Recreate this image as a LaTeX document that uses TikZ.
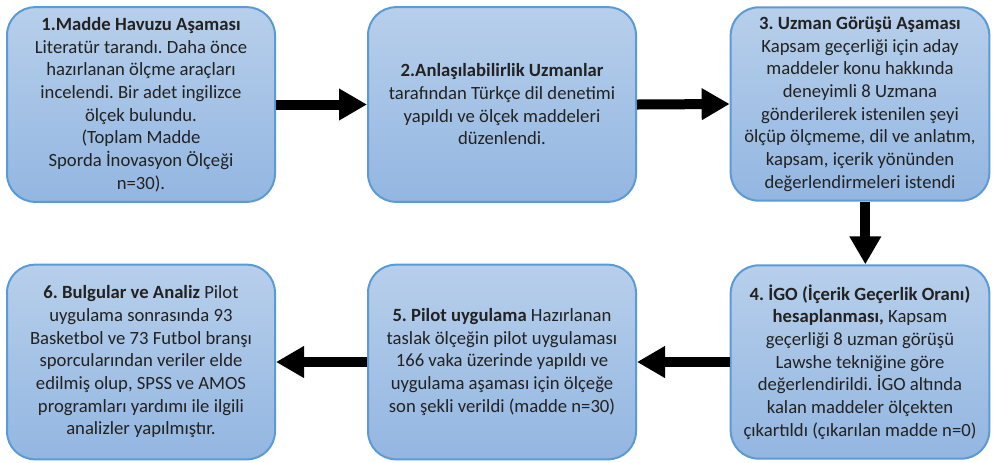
\documentclass[tikz,border=0pt]{standalone}
\usepackage{fontspec}
\setmainfont{Carlito}
\frenchspacing
\usepackage{tikz}
\usetikzlibrary{
  arrows.meta,              % Triangle 箭头样式
  positioning               % 节点相对定位
}
\definecolor{boxtop}{HTML}{B7CFEB}
\definecolor{boxbot}{HTML}{93B6E1}
\definecolor{boxline}{HTML}{5B9BD5}
\definecolor{boxtext}{HTML}{222222}
\tikzset{
  stage/.style={draw=boxline, line width=1.5pt, rounded corners=21pt, top color=boxtop, bottom color=boxbot,
    inner sep=0pt, align=center, text=boxtext, font=\fontsize{14}{17}\selectfont}, % 各阶段的圆角渐变框
  widebox/.style={stage, minimum width=201pt, minimum height=146pt}, % 左、中两列的框
  narrowbox/.style={stage, minimum width=194pt, minimum height=145pt}, % 右列的框
  flow/.style={-{Triangle[length=21pt, width=22.5pt]}, line width=7.5pt, black} % 粗黑箭头
}
\begin{document}
\begin{tikzpicture}[x=0.75pt, y=-0.75pt] % 以像素为单位，y 轴向下，便于按原图量取位置
  \useasboundingbox (0,0) rectangle (993,462); % 固定画布大小与原图一致

  % 上排三个阶段
  \node[widebox] (S1) at (141,104.5) {\textbf{1.Madde Havuzu Aşaması}\\Literatür tarandı. Daha önce\\hazırlanan ölçme araçları\\incelendi. Bir adet ingilizce\\ölçek bulundu.\\(Toplam Madde\\Sporda İnovasyon Ölçeği\\n=30).}; % 第一阶段
  \node[widebox] (S2) at (502,104.5) {\textbf{2.Anlaşılabilirlik Uzmanlar}\\tarafından Türkçe dil denetimi\\yapıldı ve ölçek maddeleri\\düzenlendi.}; % 第二阶段
  \node[narrowbox] (S3) at (860,104) {\textbf{3. Uzman Görüşü Aşaması}\\Kapsam geçerliği için aday\\maddeler konu hakkında\\deneyimli 8 Uzmana\\gönderilerek istenilen şeyi\\ölçüp ölçmeme, dil ve anlatım,\\kapsam, içerik yönünden\\değerlendirmeleri istendi}; % 第三阶段

  % 下排三个阶段
  \node[narrowbox] (S4) at (860,362) {\textbf{4. İGO (İçerik Geçerlik Oranı)}\\\textbf{hesaplanması,} Kapsam\\geçerliği 8 uzman görüşü\\Lawshe tekniğine göre\\değerlendirildi. İGO altında\\kalan maddeler ölçekten\\çıkartıldı (çıkarılan madde n=0)}; % 第四阶段
  \node[widebox] (S5) at (502,362) {\textbf{5. Pilot uygulama} Hazırlanan\\taslak ölçeğin pilot uygulaması\\166 vaka üzerinde yapıldı ve\\uygulama aşaması için ölçeğe\\son şekli verildi (madde n=30)}; % 第五阶段
  \node[widebox] (S6) at (141,362) {\textbf{6. Bulgular ve Analiz} Pilot\\uygulama sonrasında 93\\Basketbol ve 73 Futbol branşı\\sporcularından veriler elde\\edilmiş olup, SPSS ve AMOS\\programları yardımı ile ilgili\\analizler yapılmıştır.}; % 第六阶段

  % 流程箭头
  \draw[flow] (S1.east) -- (S2.west);
  \draw[flow] (S2.east) -- (S3.west);
  \draw[flow] ([xshift=4pt]S3.south) -- ([xshift=4pt]S4.north); % 竖直箭头略偏右
  \draw[flow] (S4.west) -- (S5.east);
  \draw[flow] (S5.west) -- (S6.east);
\end{tikzpicture}
\end{document}
